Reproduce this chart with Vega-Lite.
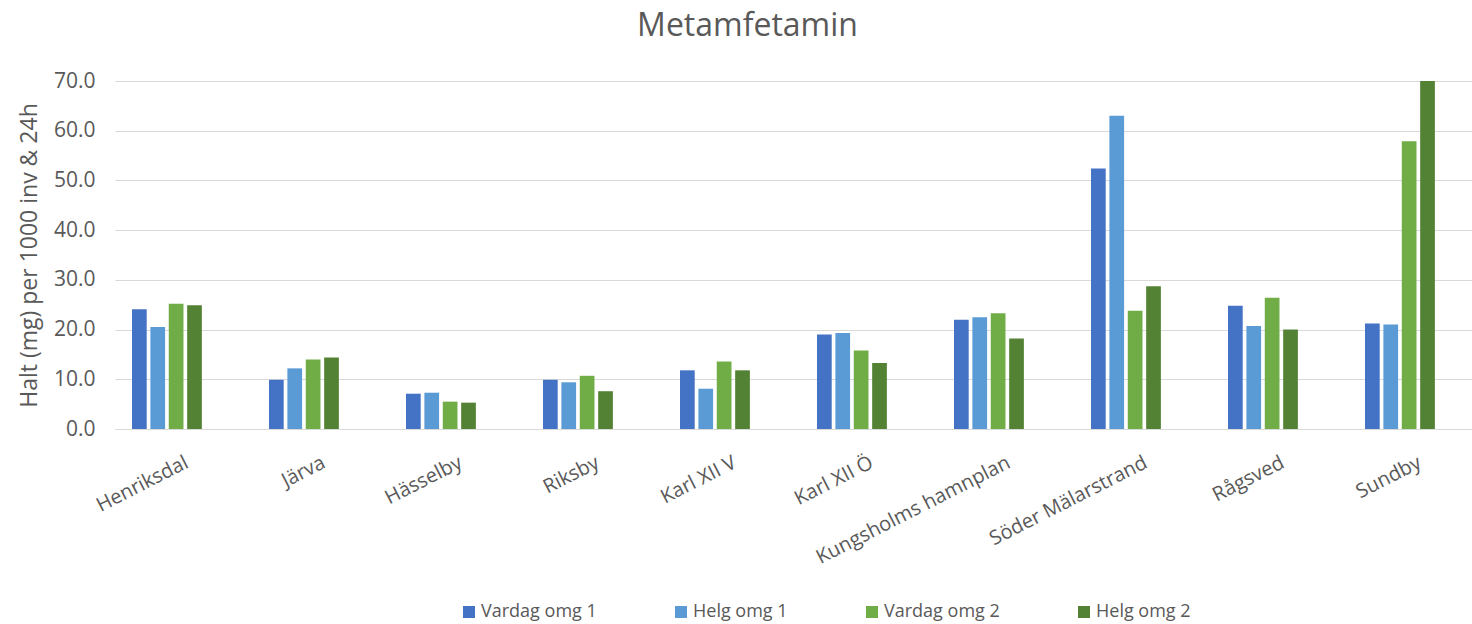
{
  "$schema": "https://vega.github.io/schema/vega-lite/v6.json",
  "width": 1357,
  "height": 348,
  "autosize": {"type": "none"},
  "padding": {"left": 115, "top": 81, "right": 0, "bottom": 195},
  "background": "white",
  "title": {
    "text": "Metamfetamin",
    "font": "Open Sans",
    "fontSize": 32,
    "fontWeight": "normal",
    "color": "#595959",
    "anchor": "middle",
    "frame": "group",
    "baseline": "alphabetic",
    "offset": 2,
    "dx": -46
  },
  "data": {
    "values": [
      {"site": "Henriksdal", "series": "Vardag omg 1", "value": 24.1},
      {"site": "Henriksdal", "series": "Helg omg 1", "value": 20.5},
      {"site": "Henriksdal", "series": "Vardag omg 2", "value": 25.2},
      {"site": "Henriksdal", "series": "Helg omg 2", "value": 24.9},
      {"site": "Järva", "series": "Vardag omg 1", "value": 9.9},
      {"site": "Järva", "series": "Helg omg 1", "value": 12.2},
      {"site": "Järva", "series": "Vardag omg 2", "value": 14.0},
      {"site": "Järva", "series": "Helg omg 2", "value": 14.4},
      {"site": "Hässelby", "series": "Vardag omg 1", "value": 7.1},
      {"site": "Hässelby", "series": "Helg omg 1", "value": 7.3},
      {"site": "Hässelby", "series": "Vardag omg 2", "value": 5.5},
      {"site": "Hässelby", "series": "Helg omg 2", "value": 5.3},
      {"site": "Riksby", "series": "Vardag omg 1", "value": 9.9},
      {"site": "Riksby", "series": "Helg omg 1", "value": 9.4},
      {"site": "Riksby", "series": "Vardag omg 2", "value": 10.7},
      {"site": "Riksby", "series": "Helg omg 2", "value": 7.6},
      {"site": "Karl XII V", "series": "Vardag omg 1", "value": 11.8},
      {"site": "Karl XII V", "series": "Helg omg 1", "value": 8.1},
      {"site": "Karl XII V", "series": "Vardag omg 2", "value": 13.6},
      {"site": "Karl XII V", "series": "Helg omg 2", "value": 11.8},
      {"site": "Karl XII Ö", "series": "Vardag omg 1", "value": 19.0},
      {"site": "Karl XII Ö", "series": "Helg omg 1", "value": 19.3},
      {"site": "Karl XII Ö", "series": "Vardag omg 2", "value": 15.8},
      {"site": "Karl XII Ö", "series": "Helg omg 2", "value": 13.3},
      {"site": "Kungsholms hamnplan", "series": "Vardag omg 1", "value": 22.0},
      {"site": "Kungsholms hamnplan", "series": "Helg omg 1", "value": 22.5},
      {"site": "Kungsholms hamnplan", "series": "Vardag omg 2", "value": 23.3},
      {"site": "Kungsholms hamnplan", "series": "Helg omg 2", "value": 18.2},
      {"site": "Söder Mälarstrand", "series": "Vardag omg 1", "value": 52.4},
      {"site": "Söder Mälarstrand", "series": "Helg omg 1", "value": 63.0},
      {"site": "Söder Mälarstrand", "series": "Vardag omg 2", "value": 23.8},
      {"site": "Söder Mälarstrand", "series": "Helg omg 2", "value": 28.7},
      {"site": "Rågsved", "series": "Vardag omg 1", "value": 24.8},
      {"site": "Rågsved", "series": "Helg omg 1", "value": 20.7},
      {"site": "Rågsved", "series": "Vardag omg 2", "value": 26.4},
      {"site": "Rågsved", "series": "Helg omg 2", "value": 20.0},
      {"site": "Sundby", "series": "Vardag omg 1", "value": 21.2},
      {"site": "Sundby", "series": "Helg omg 1", "value": 21.0},
      {"site": "Sundby", "series": "Vardag omg 2", "value": 57.9},
      {"site": "Sundby", "series": "Helg omg 2", "value": 70.0}
    ]
  },
  "mark": {"type": "bar"},
  "encoding": {
    "x": {
      "field": "site",
      "type": "nominal",
      "sort": null,
      "scale": {"paddingInner": 0.49, "paddingOuter": 0.1975, "align": 0.314},
      "axis": {
        "title": null,
        "domain": true,
        "domainColor": "#D9D9D9",
        "domainWidth": 1,
        "ticks": false,
        "labelAngle": -27,
        "labelAlign": "right",
        "labelBaseline": "middle",
        "labelOffset": 20,
        "labelPadding": 32,
        "labelFont": "Open Sans",
        "labelFontSize": 20,
        "labelColor": "#595959",
        "labelLimit": 400
      }
    },
    "xOffset": {
      "field": "series",
      "type": "nominal",
      "sort": ["Vardag omg 1", "Helg omg 1", "Vardag omg 2", "Helg omg 2"],
      "scale": {"paddingInner": 0.2, "paddingOuter": 0}
    },
    "y": {
      "field": "value",
      "type": "quantitative",
      "scale": {"domain": [0, 70], "nice": false},
      "axis": {
        "values": [0, 10, 20, 30, 40, 50, 60, 70],
        "format": ".1f",
        "grid": true,
        "gridColor": "#D9D9D9",
        "gridWidth": 1,
        "domain": false,
        "ticks": false,
        "labelPadding": 20,
        "labelFont": "Open Sans",
        "labelFontSize": 21,
        "labelColor": "#595959",
        "title": "Halt (mg) per 1000 inv & 24h",
        "titleFont": "Open Sans",
        "titleFontSize": 23,
        "titleFontWeight": "normal",
        "titleColor": "#595959",
        "titlePadding": 12
      }
    },
    "color": {
      "field": "series",
      "type": "nominal",
      "sort": ["Vardag omg 1", "Helg omg 1", "Vardag omg 2", "Helg omg 2"],
      "scale": {
        "domain": ["Vardag omg 1", "Helg omg 1", "Vardag omg 2", "Helg omg 2"],
        "range": ["#4472C4", "#5B9BD5", "#70AD47", "#548235"]
      },
      "legend": {
        "title": null,
        "orient": "none",
        "legendX": 345,
        "legendY": 522,
        "direction": "horizontal",
        "columns": 4,
        "columnPadding": 75,
        "padding": 0,
        "symbolType": "square",
        "symbolSize": 144,
        "symbolStrokeWidth": 0,
        "labelOffset": 3,
        "labelFont": "Open Sans",
        "labelFontSize": 18,
        "labelColor": "#595959"
      }
    }
  },
  "config": {"view": {"stroke": null}}
}
